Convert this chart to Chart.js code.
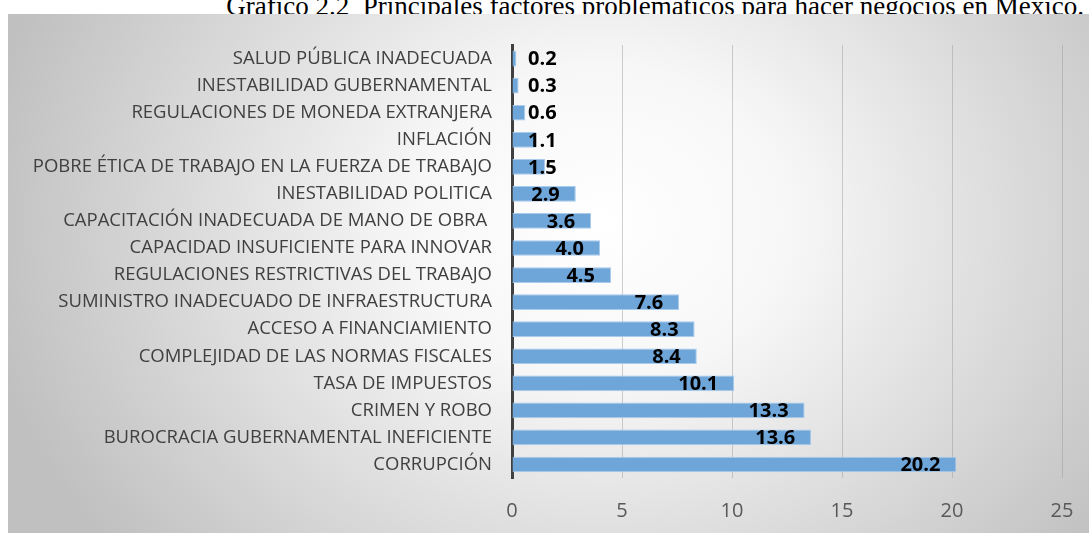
<!DOCTYPE html>
<html lang="es">
<head>
  <meta charset="UTF-8">
  <title>Gráfico 2.2</title>
  <script src="https://cdn.jsdelivr.net/npm/chart.js@4/dist/chart.umd.min.js"></script>
  <style>
    html, body { margin: 0; padding: 0; background: #fff; overflow: hidden; }
    body { width: 1089px; height: 533px; position: relative; }
    #title {
      position: absolute; right: 5px; top: -8px;
      font-family: 'Liberation Serif', serif; font-size: 27px; line-height: 28px;
      white-space: pre; color: #000;
    }
    #box {
      position: absolute; left: 8px; top: 14px; width: 1081px; height: 519px;
      background: radial-gradient(ellipse 58% 100% at 55% 40%, #ffffff 0%, #f7f7f7 30%, #c0c0c0 100%);
    }
  </style>
</head>
<body>
  <div id="title">Gráfico 2.2  Principales factores problemáticos para hacer negocios en México.</div>
  <div id="box"><canvas id="myChart"></canvas></div>

  <script>
    const factores = [
      'SALUD PÚBLICA INADECUADA',
      'INESTABILIDAD GUBERNAMENTAL',
      'REGULACIONES DE MONEDA EXTRANJERA',
      'INFLACIÓN',
      'POBRE ÉTICA DE TRABAJO EN LA FUERZA DE TRABAJO',
      'INESTABILIDAD POLITICA',
      'CAPACITACIÓN INADECUADA DE MANO DE OBRA ',
      'CAPACIDAD INSUFICIENTE PARA INNOVAR',
      'REGULACIONES RESTRICTIVAS DEL TRABAJO',
      'SUMINISTRO INADECUADO DE INFRAESTRUCTURA',
      'ACCESO A FINANCIAMIENTO',
      'COMPLEJIDAD DE LAS NORMAS FISCALES',
      'TASA DE IMPUESTOS',
      'CRIMEN Y ROBO',
      'BUROCRACIA GUBERNAMENTAL INEFICIENTE',
      'CORRUPCIÓN'
    ];
    const porcentajes = [0.2, 0.3, 0.6, 1.1, 1.5, 2.9, 3.6, 4.0, 4.5, 7.6, 8.3, 8.4, 10.1, 13.3, 13.6, 20.2];
    const ejeMax = 25;
    const ejePaso = 5;

    // etiquetas de datos estilo Excel ("extremo interno")
    const etiquetas = {
      id: 'etiquetas',
      afterDatasetsDraw(chart) {
        const ctx = chart.ctx;
        const meta = chart.getDatasetMeta(0);
        const x0 = chart.scales.x.getPixelForValue(0);
        ctx.save();
        ctx.font = 'bold 20px "Open Sans"';
        ctx.fillStyle = '#000';
        ctx.textAlign = 'right';
        ctx.textBaseline = 'middle';
        meta.data.forEach((bar, i) => {
          const txt = porcentajes[i].toFixed(1);
          const w = ctx.measureText(txt).width;
          const right = Math.max(bar.x - 16, x0 + 16 + w);
          ctx.fillText(txt, right, bar.y + 1);
        });
        ctx.restore();
      }
    };

    Chart.defaults.font.family = '"Open Sans", sans-serif';

    const ctx = document.getElementById('myChart').getContext('2d');
    const myChart = new Chart(ctx, {
      type: 'bar',
      data: {
        labels: factores,
        datasets: [{
          data: porcentajes,
          backgroundColor: '#6fa6da',
          borderColor: '#a9cbec',
          borderWidth: 1,
          borderSkipped: 'start',
          categoryPercentage: 1,
          barPercentage: 0.58
        }]
      },
      options: {
        indexAxis: 'y',
        responsive: true,
        maintainAspectRatio: false,
        animation: false,
        layout: { padding: { top: 27.7, right: 0, bottom: 0, left: 0 } },
        plugins: {
          legend: { display: false },
          tooltip: { enabled: false }
        },
        scales: {
          x: {
            min: 0,
            max: ejeMax,
            grid: { color: 'rgba(150, 150, 150, 0.45)', lineWidth: 1, drawTicks: false },
            border: { display: false },
            ticks: { stepSize: ejePaso, padding: 21, color: '#595959', font: { size: 20 } },
            afterFit(scale) {
              scale.height = 55;
              scale.paddingLeft = 0;
              scale.paddingRight = 27;
            }
          },
          y: {
            z: 1,
            grid: { display: false, drawTicks: false },
            border: { display: true, color: '#404040', width: 3 },
            ticks: { autoSkip: false, padding: 20, color: '#404040', font: { size: 18.5 } },
            afterFit(scale) { scale.width = 504; }
          }
        }
      },
      plugins: [etiquetas]
    });
  </script>
</body>
</html>
